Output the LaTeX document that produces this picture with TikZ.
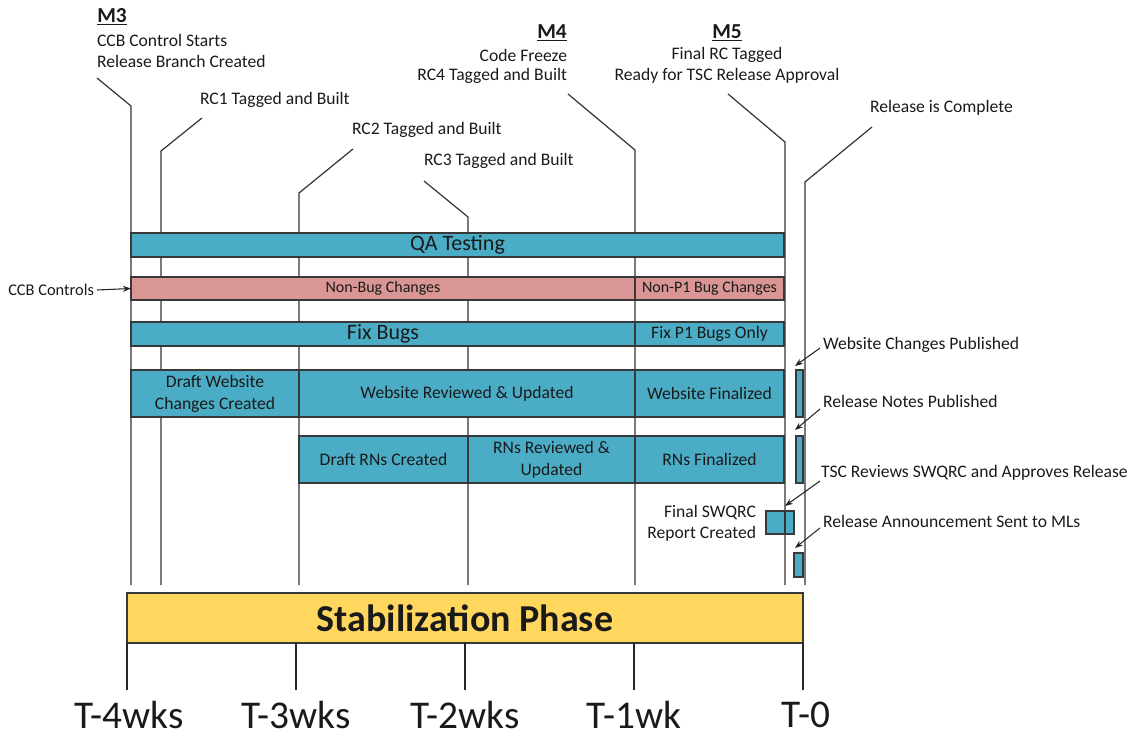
\documentclass[tikz,border=0pt]{standalone}
\usepackage{fontspec}
\setmainfont{Carlito}
\usetikzlibrary{arrows.meta}
\definecolor{barblue}{HTML}{4BACC6}
\definecolor{barpink}{HTML}{D99694}
\definecolor{phasey}{HTML}{FFD75E}
\definecolor{txt}{HTML}{1A1A1A}
\begin{document}
\begin{tikzpicture}[x=0.75pt,y=-0.75pt,
  bar/.style={draw=black!78, line width=1.1pt, fill=barblue, inner sep=0pt, outer sep=0pt,
    anchor=north west, align=center, text=txt, font=\fontsize{13.2}{16.5}\selectfont},
  pinkbar/.style={bar, fill=barpink, font=\fontsize{12}{14}\selectfont},
  sz/.style 2 args={minimum width=#1*0.75pt, minimum height=#2*0.75pt},
  tl/.style={draw=black!80, line width=0.9pt},
  lbl/.style={inner sep=0pt, outer sep=0pt, text=txt, font=\fontsize{13.2}{15.8}\selectfont},
  mlbl/.style={inner sep=0pt, text=txt, font=\fontsize{16}{18}\selectfont\bfseries},
  arr/.style={draw=black!85, line width=0.8pt, -{Stealth[length=6pt,width=4.5pt]}},
  tick/.style={draw=black!85, line width=1.1pt},
  wk/.style={inner sep=0pt, text=txt, font=\fontsize{29.5}{34}\selectfont}
]
\useasboundingbox (0,0) rectangle (1142,738);

% milestone labels
\node[mlbl, anchor=west] (m3) at (97,17) {\underline{M3}};
\node[lbl, anchor=west] (m3a) at (97,40) {CCB Control Starts};
\node[lbl, anchor=west] (m3b) at (97,61) {Release Branch Created};
\node[mlbl, anchor=east] (m4) at (567,33) {\underline{M4}};
\node[lbl, anchor=east] (m4a) at (567,55) {Code Freeze};
\node[lbl, anchor=east] (m4b) at (567,76) {RC4 Tagged and Built};
\node[mlbl] (m5) at (727,33) {\underline{M5}};
\node[lbl] (m5a) at (727,55) {Final RC Tagged};
\node[lbl] (m5b) at (727,76) {Ready for TSC Release Approval};
\node[lbl, anchor=west] (rc1) at (200,100) {RC1 Tagged and Built};
\node[lbl, anchor=west] (rc2) at (352,130) {RC2 Tagged and Built};
\node[lbl, anchor=west] (rc3) at (424,161) {RC3 Tagged and Built};
\node[lbl, anchor=west] (relc) at (870,108) {Release is Complete};

% timeline lines
\coordinate (m3s) at (97,78);   \coordinate (m3k) at (131,106); \coordinate (m3e) at (131,585);
\coordinate (r1s) at (202,118); \coordinate (r1k) at (161,151); \coordinate (r1e) at (161,585);
\coordinate (r2s) at (353,149); \coordinate (r2k) at (299,193); \coordinate (r2e) at (299,585);
\coordinate (r3s) at (424,181); \coordinate (r3k) at (468,217); \coordinate (r3e) at (468,585);
\coordinate (m4s) at (568,94);  \coordinate (m4k) at (635,150); \coordinate (m4e) at (635,585);
\coordinate (m5s) at (728,94);  \coordinate (m5k) at (785,142); \coordinate (m5e) at (785,585);
\coordinate (rcs) at (872,127); \coordinate (rck) at (805,182); \coordinate (rce) at (805,585);
\draw[tl] (m3s) -- (m3k) -- (m3e);
\draw[tl] (r1s) -- (r1k) -- (r1e);
\draw[tl] (r2s) -- (r2k) -- (r2e);
\draw[tl] (r3s) -- (r3k) -- (r3e);
\draw[tl] (m4s) -- (m4k) -- (m4e);
\draw[tl] (m5s) -- (m5k) -- (m5e);
\draw[tl] (rcs) -- (rck) -- (rce);

% bars
\node[bar, sz={653}{24}, font=\fontsize{16.5}{18}\selectfont] (qa) at (131,233) {QA Testing};
\node[pinkbar, sz={504}{23}] (nb) at (131,277) {Non-Bug Changes};
\node[pinkbar, sz={149}{23}] (np1) at (635,277) {Non-P1 Bug Changes};
\node[bar, sz={504}{24}, font=\fontsize{16.5}{18}\selectfont] (fb) at (131,322) {Fix Bugs};
\node[bar, sz={149}{24}] (fp1) at (635,322) {Fix P1 Bugs Only};
\node[bar, sz={168}{47}] (dw) at (131,370) {Draft Website\\Changes Created};
\node[bar, sz={336}{47}] (wr) at (299,370) {Website Reviewed \& Updated};
\node[bar, sz={149}{47}] (wf) at (635,370) {Website Finalized};
\node[bar, sz={169}{47}] (dr) at (299,436) {Draft RNs Created};
\node[bar, sz={167}{47}] (rr) at (468,436) {RNs Reviewed \&\\Updated};
\node[bar, sz={149}{47}] (rf) at (635,436) {RNs Finalized};
\node[bar, sz={7}{47}] (wp) at (796,370) {};
\node[bar, sz={7}{47}] (rp) at (796,436) {};
\node[bar, sz={28}{23}] (sw) at (766,511) {};
\node[bar, sz={9}{24}] (ra) at (794,553) {};
\draw[tl] (785,511) -- (785,534);

% side labels and arrows
\node[lbl, anchor=east, font=\fontsize{12.3}{14}\selectfont] (ccb) at (94,290) {CCB Controls};
\draw[arr] (ccb.east) ++(3,0) -- (nb.west);
\node[lbl, anchor=east, align=right] (swl) at (756,523) {Final SWQRC\\Report Created};
\node[lbl, anchor=west] (wcp) at (823,345) {Website Changes Published};
\node[lbl, anchor=west] (rnp) at (823,401) {Release Notes Published};
\node[lbl, anchor=west] (tsc) at (821,473) {TSC Reviews SWQRC and Approves Release};
\node[lbl, anchor=west] (ram) at (823,521) {Release Announcement Sent to MLs};
\coordinate (wcpt) at (795,366);
\coordinate (rnpt) at (795,430);
\coordinate (tsct) at (785,506);
\coordinate (ramt) at (795,548);
\draw[arr] (820,348) -- (wcpt);
\draw[arr] (820,409) -- (rnpt);
\draw[arr] (820,481) -- (tsct);
\draw[arr] (820,528) -- (ramt);

% phase bar and ticks
\node[bar, fill=phasey, sz={676}{50}, font=\fontsize{28.5}{32}\selectfont\bfseries] (phase) at (127,593) {Stabilization Phase};
\coordinate (t4) at (127,643); \coordinate (t3) at (296,643); \coordinate (t2) at (465,643);
\coordinate (t1) at (634,643); \coordinate (t0) at (803,643);
\foreach \c in {t4,t3,t2,t1,t0} \draw[tick] (\c) -- ++(0,47);
\node[wk] (w4) at (129,715) {T-4wks};
\node[wk] (w3) at (296,715) {T-3wks};
\node[wk] (w2) at (465,715) {T-2wks};
\node[wk] (w1) at (634,715) {T-1wk};
\node[wk] (w0) at (806,715) {T-0};
\end{tikzpicture}
\end{document}
